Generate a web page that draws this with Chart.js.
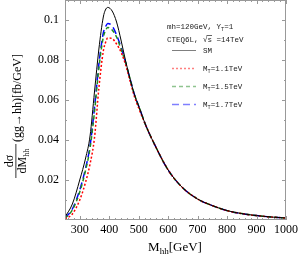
<!DOCTYPE html>
<html>
<head>
<meta charset="utf-8">
<script src="https://cdn.jsdelivr.net/npm/chart.js@4"></script>
<style>
  html, body { margin: 0; padding: 0; background: #fff; }
  #wrap { width: 300px; height: 258px; }
</style>
</head>
<body>
<div id="wrap"><canvas id="chart"></canvas></div>
<script>
// values
var massHH = [250, 275, 300, 320, 335, 350, 365, 380, 387, 395, 410, 425, 440, 455, 470, 485, 500, 525, 550, 600, 650, 700, 750, 800, 850, 900, 950, 1000];
var smValues = [0.0015, 0.008, 0.020, 0.031, 0.042, 0.064, 0.0855, 0.1015, 0.1050, 0.1063, 0.1045, 0.099, 0.090, 0.080, 0.071, 0.063, 0.057, 0.047, 0.039, 0.025, 0.016, 0.0105, 0.0072, 0.0047, 0.0032, 0.0022, 0.0015, 0.001];
var mt11Values = [0.0005, 0.003, 0.010, 0.019, 0.028, 0.041, 0.066, 0.0845, 0.0885, 0.0910, 0.0907, 0.088, 0.084, 0.078, 0.070, 0.062, 0.056, 0.047, 0.039, 0.025, 0.016, 0.0105, 0.0072, 0.0047, 0.0032, 0.0022, 0.0015, 0.001];
var mt15Values = [0.0008, 0.005, 0.014, 0.025, 0.036, 0.054, 0.076, 0.0915, 0.0945, 0.0963, 0.0950, 0.0915, 0.0855, 0.079, 0.071, 0.063, 0.057, 0.047, 0.039, 0.025, 0.016, 0.0105, 0.0072, 0.0047, 0.0032, 0.0022, 0.0015, 0.001];
var mt17Values = [0.001, 0.0055, 0.015, 0.026, 0.037, 0.056, 0.078, 0.0935, 0.0965, 0.0983, 0.0970, 0.0925, 0.0865, 0.079, 0.071, 0.063, 0.057, 0.047, 0.039, 0.025, 0.016, 0.0105, 0.0072, 0.0047, 0.0032, 0.0022, 0.0015, 0.001];

var seriesLabels = ["SM", "1.1TeV", "1.5TeV", "1.7TeV"];
var xTicks = [300, 400, 500, 600, 700, 800, 900, 1000];
var yTicks = [0.02, 0.04, 0.06, 0.08, 0.1];

var serif = "'Liberation Serif', 'DejaVu Serif', serif";
var mono = "'Liberation Mono', 'DejaVu Sans Mono', monospace";

function points(ys) {
    return massHH.map(function (m, i) { return { x: m, y: ys[i] }; });
}

function makeSet(label, ys, color, dash, width) {
    return {
        label: label,
        data: points(ys),
        borderColor: color,
        borderWidth: width,
        borderDash: dash,
        pointRadius: 0,
        fill: false,
        cubicInterpolationMode: "monotone"
    };
}

// frame + inward ticks like the original
var frameTicks = {
    id: "frameTicks",
    afterDraw: function (chart) {
        var ctx = chart.ctx, a = chart.chartArea;
        var xs = chart.scales.x, ys = chart.scales.y;
        ctx.save();
        ctx.strokeStyle = "#999";
        ctx.lineWidth = 1;
        ctx.strokeRect(a.left + 0.5, a.top + 0.5, a.right - a.left - 1, a.bottom - a.top - 1);
        ctx.beginPath();
        for (var v = 260; v <= 1000; v += 20) {
            var len = (v % 100 == 0) ? 4 : 2;
            var px = Math.round(xs.getPixelForValue(v)) + 0.5;
            ctx.moveTo(px, a.bottom); ctx.lineTo(px, a.bottom - len);
            ctx.moveTo(px, a.top); ctx.lineTo(px, a.top + len);
        }
        for (var k = 1; k <= 10; k++) {
            var val = k * 0.01;
            var l2 = (k % 2 == 0) ? 4 : 2;
            var py = Math.round(ys.getPixelForValue(val)) + 0.5;
            ctx.moveTo(a.left, py); ctx.lineTo(a.left + l2, py);
            ctx.moveTo(a.right, py); ctx.lineTo(a.right - l2, py);
        }
        ctx.stroke();
        ctx.restore();
    }
};

// text with a lowered subscript, returns end x
function subText(ctx, parts, x, y, size, family) {
    parts.forEach(function (p) {
        if (p.sub) {
            ctx.font = (size * 0.7) + "px " + family;
            ctx.fillText(p.t, x, y + size * 0.25);
        } else {
            ctx.font = size + "px " + family;
            ctx.fillText(p.t, x, y);
        }
        x += ctx.measureText(p.t).width;
    });
    return x;
}

var titlesLegend = {
    id: "titlesLegend",
    afterDraw: function (chart) {
        var ctx = chart.ctx;
        ctx.save();
        ctx.fillStyle = "#000";
        ctx.textBaseline = "alphabetic";

        // x title
        var xw = 0;
        ctx.font = "13px " + serif; xw += ctx.measureText("M").width + ctx.measureText("[GeV]").width;
        ctx.font = (13 * 0.7) + "px " + serif; xw += ctx.measureText("hh").width;
        subText(ctx, [{ t: "M" }, { t: "hh", sub: true }, { t: "[GeV]" }], 175 - xw / 2, 251, 13, serif);

        // y title, rotated
        ctx.save();
        ctx.translate(0, 258);
        ctx.rotate(-Math.PI / 2);
        ctx.font = "12px " + serif;
        var nw = ctx.measureText("d\u03c3").width;
        ctx.fillText("d\u03c3", 97 - nw / 2, 13);
        ctx.fillRect(80, 15.5, 34, 0.8);
        var dw = ctx.measureText("dM").width;
        ctx.font = (12 * 0.7) + "px " + serif;
        dw += ctx.measureText("hh").width;
        subText(ctx, [{ t: "dM" }, { t: "hh", sub: true }], 97 - dw / 2, 26, 12, serif);
        ctx.font = "12px " + serif;
        ctx.fillText("(gg\u2192hh)[fb/GeV]", 116, 21);
        ctx.restore();

        // legend box
        ctx.fillStyle = "#222";
        var fs = 7.5;
        subText(ctx, [{ t: "mh=120GeV, Y" }, { t: "T", sub: true }, { t: "=1" }], 167, 29, fs, mono);
        var ex = subText(ctx, [{ t: "CTEQ6L, \u221a" }], 167, 42, fs, mono);
        ctx.font = fs + "px " + mono;
        var sw = ctx.measureText("s").width;
        ctx.fillText("s", ex, 42);
        ctx.fillRect(ex - 1, 35, sw + 1, 0.7);
        ctx.fillText(" =14TeV", ex + sw, 42);

        var rows = [50, 68, 86, 104];
        chart.data.datasets.forEach(function (ds, i) {
            var y = rows[i];
            ctx.save();
            ctx.strokeStyle = ds.borderColor;
            ctx.globalAlpha = 0.5;
            ctx.lineWidth = ds.borderWidth;
            ctx.setLineDash(ds.borderDash);
            ctx.beginPath();
            ctx.moveTo(172, y + 0.5);
            ctx.lineTo(196, y + 0.5);
            ctx.stroke();
            ctx.restore();
            ctx.fillStyle = "#222";
            if (i == 0) {
                subText(ctx, [{ t: ds.label }], 203, y + 3, fs, mono);
            } else {
                subText(ctx, [{ t: "M" }, { t: "T", sub: true }, { t: "=" + ds.label }], 203, y + 3, fs, mono);
            }
        });
        ctx.restore();
    }
};

new Chart(document.getElementById("chart"), {
    type: "line",
    data: {
        datasets: [
            makeSet(seriesLabels[0], smValues, "#000000", [], 1),
            makeSet(seriesLabels[1], mt11Values, "#ff0000", [2, 2], 1.5),
            makeSet(seriesLabels[2], mt15Values, "#1f8a1f", [4, 3], 1.5),
            makeSet(seriesLabels[3], mt17Values, "#0000ff", [7, 4], 1.5)
        ]
    },
    options: {
        responsive: true,
        maintainAspectRatio: false,
        animation: false,
        layout: { padding: { top: 0, right: 14, left: 0, bottom: 0 } },
        plugins: { legend: { display: false }, tooltip: { enabled: false } },
        scales: {
            x: {
                type: "linear",
                min: 250,
                max: 1000,
                afterFit: function (s) { s.height = 38; s.paddingLeft = 0; s.paddingRight = 0; },
                afterBuildTicks: function (s) { s.ticks = xTicks.map(function (v) { return { value: v }; }); },
                grid: { display: false, drawTicks: false },
                border: { display: false },
                ticks: {
                    padding: 3,
                    color: "#000",
                    font: { family: serif, size: 12 },
                    maxRotation: 0,
                    autoSkip: false,
                    callback: function (v) { return String(v); }
                }
            },
            y: {
                min: 0,
                max: 0.11,
                afterFit: function (s) { s.width = 65; s.paddingTop = 0; s.paddingBottom = 0; },
                afterBuildTicks: function (s) { s.ticks = yTicks.map(function (v) { return { value: v }; }); },
                grid: { display: false, drawTicks: false },
                border: { display: false },
                ticks: {
                    padding: 6,
                    color: "#000",
                    font: { family: serif, size: 12 },
                    callback: function (v) { return String(Math.round(v * 100) / 100); }
                }
            }
        }
    },
    plugins: [frameTicks, titlesLegend]
});
</script>
</body>
</html>
